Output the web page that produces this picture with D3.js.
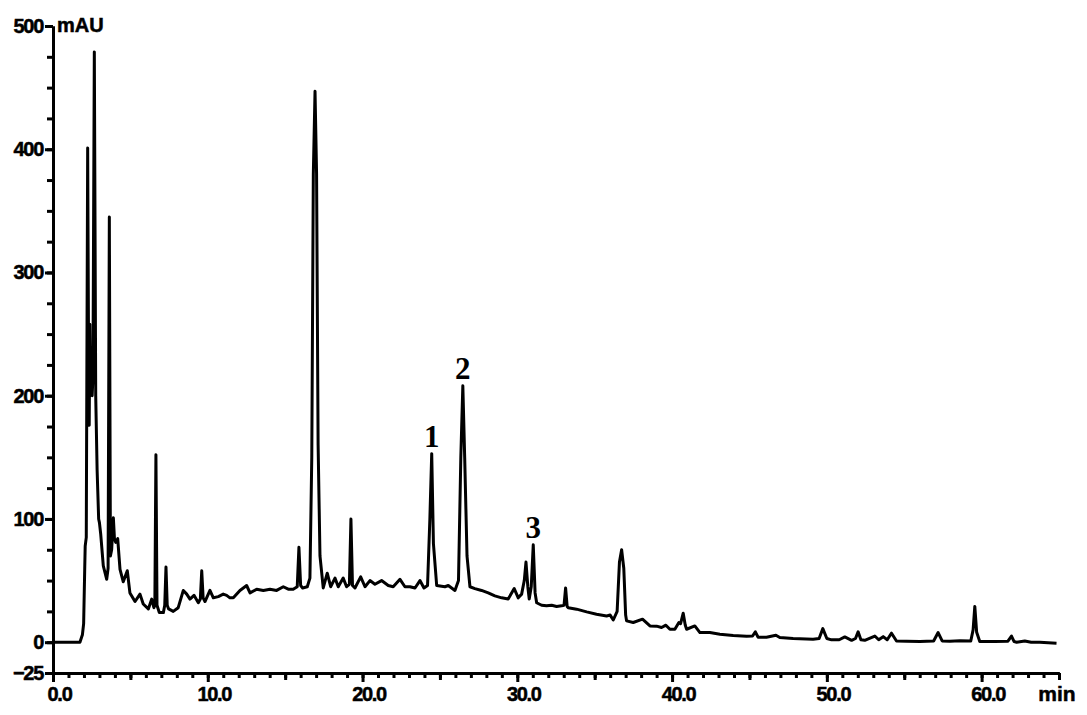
<!DOCTYPE html>
<html>
<head>
<meta charset="utf-8">
<script src="https://cdnjs.cloudflare.com/ajax/libs/d3/7.8.5/d3.min.js"></script>
<style>
body { margin: 0; background: #fff; }
#chart { width: 1087px; height: 715px; }
.axis path, .axis line { stroke: #000; stroke-width: 3px; }
.axis text, .unit { font-family: "Liberation Sans", Arial, sans-serif; font-weight: bold; font-size: 20px; letter-spacing: -1.3px; fill: #000; stroke: #000; stroke-width: 0.5px; }
.peak-label { font-family: "Liberation Serif", "Times New Roman", serif; font-weight: bold; font-size: 31px; fill: #000; }
</style>
</head>
<body>
<div id="chart"></div>
<script>
// retention time (min) and signal (mAU)
var times = [0, 1.74, 1.9, 1.98, 2.05, 2.08, 2.15, 2.24, 2.31, 2.34, 2.38, 2.42, 2.47, 2.53, 2.58, 2.67, 2.76, 2.85, 2.95, 3.0,
    3.08, 3.25, 3.47, 3.56, 3.64, 3.71, 3.79, 3.9, 3.97, 4.05, 4.18, 4.33, 4.54, 4.8, 4.97, 5.3, 5.62, 5.83, 6.16, 6.38,
    6.52, 6.58, 6.65, 6.72, 6.87, 7.13, 7.22, 7.3, 7.38, 7.47, 7.77, 8.09, 8.42, 8.64, 8.85, 9.11, 9.39, 9.52, 9.61, 9.7,
    9.82, 10.14, 10.36, 10.68, 11.0, 11.22, 11.43, 11.65, 12.08, 12.51, 12.73, 13.16, 13.59, 14.02, 14.45, 14.88, 15.2, 15.52, 15.78, 15.89,
    16.0, 16.13, 16.43, 16.6, 16.72, 16.82, 16.93, 17.03, 17.13, 17.25, 17.46, 17.72, 17.94, 18.22, 18.43, 18.75, 18.97, 19.15, 19.25, 19.35,
    19.51, 19.88, 20.16, 20.48, 20.8, 21.23, 21.66, 21.98, 22.42, 22.74, 23.06, 23.39, 23.71, 23.97, 24.2, 24.35, 24.47, 24.58, 24.79, 25.32,
    25.54, 25.97, 26.2, 26.35, 26.48, 26.6, 26.75, 26.94, 27.26, 27.69, 28.12, 28.55, 28.99, 29.41, 29.8, 30.06, 30.28, 30.45, 30.56, 30.68,
    30.77, 30.9, 31.03, 31.15, 31.25, 31.57, 31.89, 32.22, 32.54, 32.86, 33.02, 33.12, 33.22, 33.29, 33.83, 34.48, 35.12, 35.77, 36.0, 36.2,
    36.45, 36.6, 36.74, 36.88, 37.0, 37.06, 37.49, 38.09, 38.57, 39.0, 39.32, 39.6, 39.86, 40.18, 40.44, 40.55, 40.72, 40.85, 40.94, 41.47,
    41.8, 42.44, 43.09, 43.95, 44.81, 45.2, 45.38, 45.56, 46.1, 46.71, 46.96, 47.82, 49.11, 49.5, 49.74, 50.0, 50.3, 50.8, 51.16, 51.6,
    51.85, 52.02, 52.2, 52.45, 53.1, 53.35, 53.64, 53.9, 54.18, 54.5, 55.15, 56.01, 56.9, 57.19, 57.45, 57.95, 58.6, 59.3, 59.45, 59.56,
    59.68, 59.88, 60.85, 61.7, 61.93, 62.1, 62.26, 62.79, 63.2, 63.76, 64.84];
var absorbance = [0, 0, 6, 15, 60, 78, 85, 401, 200, 176, 258, 205, 235, 200, 215, 479, 200, 140, 100, 97,
    88, 62, 51, 60, 345, 70, 75, 101, 84, 81, 84, 59, 49, 58, 40, 33, 39, 31, 27, 35,
    28, 30, 152, 30, 24, 24, 30, 61, 30, 27, 25, 28, 42, 39, 35, 38, 32, 35, 58, 36,
    33, 42, 36, 37, 39, 38, 36, 36, 42, 46, 40, 43, 42, 43, 42, 45, 43, 43, 45, 77,
    46, 44, 45, 52, 150, 380, 447, 380, 160, 70, 44, 56, 45, 52, 45, 52, 45, 47, 100, 46,
    44, 53, 45, 50, 47, 50, 46, 45, 51, 45, 45, 44, 50, 44, 46, 100, 153, 80, 46, 45,
    46, 42, 50, 150, 208, 150, 70, 45, 43.5, 42, 40, 37.6, 36, 35, 43.5, 36, 39, 50, 65, 45,
    35, 45, 79, 40, 32, 30, 29.5, 30, 29, 29.5, 30, 44, 29, 28, 26.8, 24.6, 22.7, 21.3, 22, 18,
    25, 65, 75, 60, 22, 17.3, 16, 18.7, 13.2, 13, 11.9, 13.8, 10.5, 10.5, 16, 15, 23.5, 14, 10.5, 13.2,
    7.8, 7.8, 6.5, 5.5, 4.8, 5, 8.4, 4, 4, 5.7, 3.8, 3, 2.4, 3, 11, 3, 1.9, 2, 4.3, 1.5,
    3, 8.4, 2, 1.5, 5, 2, 4.5, 2, 7.3, 1, 0.8, 0.5, 1, 7.8, 1, 0.8, 1.2, 1, 10, 29,
    8, 0.5, 0.5, 0.8, 5, 0.5, 0, 1, 0, 0, -0.8];

var yTickLabels = [-25, 0, 100, 200, 300, 400, 500];
var xTickLabels = [0, 10, 20, 30, 40, 50, 60];
var peakNames = ["1", "2", "3"];
var peakTimes = [24.47, 26.48, 31.03];
var peakTops = [153, 208, 79];

Chromatogram = function(_parentElement){
    this.parentElement = _parentElement;
    this.data = times.map(function(t, i){ return { t: t, v: absorbance[i] }; });
    this.initVis();
};

Chromatogram.prototype.initVis = function(){
    var vis = this;

    vis.margin = { top: 26, right: 28, bottom: 42, left: 53 };
    vis.width = 1087 - vis.margin.left - vis.margin.right;
    vis.height = 715 - vis.margin.top - vis.margin.bottom;

    vis.svg = d3.select("#" + vis.parentElement).append("svg")
        .attr("width", 1087)
        .attr("height", 715)
        .append("g")
        .attr("transform", "translate(" + vis.margin.left + "," + vis.margin.top + ")");

    vis.x = d3.scaleLinear().domain([0, 65]).range([0, vis.width]);
    vis.y = d3.scaleLinear().domain([-25, 500]).range([vis.height, 0]);

    // x axis: minor every 1 min, medium every 5, labelled every 10
    vis.svg.append("g")
        .attr("class", "axis")
        .attr("transform", "translate(0," + vis.height + ")")
        .call(d3.axisBottom(vis.x).tickValues(d3.range(0, 66, 1)).tickSize(5).tickSizeOuter(0).tickFormat(""));
    vis.svg.append("g")
        .attr("class", "axis")
        .attr("transform", "translate(0," + vis.height + ")")
        .call(d3.axisBottom(vis.x).tickValues(d3.range(5, 66, 10)).tickSize(7).tickSizeOuter(0).tickFormat(""));
    vis.svg.append("g")
        .attr("class", "axis")
        .attr("transform", "translate(0," + vis.height + ")")
        .call(d3.axisBottom(vis.x).tickValues(xTickLabels).tickSize(9).tickSizeOuter(0).tickPadding(5)
            .tickFormat(d3.format(".1f")))
        .selectAll("text").attr("dx", 6);

    // y axis: minor every 25
    vis.svg.append("g")
        .attr("class", "axis")
        .call(d3.axisLeft(vis.y).tickValues(d3.range(-25, 501, 25)).tickSize(6).tickSizeOuter(0).tickFormat(""));
    vis.svg.append("g")
        .attr("class", "axis")
        .call(d3.axisLeft(vis.y).tickValues(yTickLabels).tickSize(8).tickSizeOuter(0).tickPadding(2)
            .tickFormat(d3.format("d")));

    vis.svg.append("text")
        .attr("class", "unit")
        .attr("x", 4)
        .attr("y", 6)
        .style("letter-spacing", "0px")
        .text("mAU");

    vis.svg.append("text")
        .attr("class", "unit")
        .attr("x", vis.width - 2)
        .attr("y", vis.height + 28)
        .attr("text-anchor", "middle")
        .style("font-size", "21px")
        .style("letter-spacing", "0px")
        .text("min");

    vis.line = d3.line()
        .x(function(d){ return vis.x(d.t); })
        .y(function(d){ return vis.y(d.v); });

    vis.updateVis();
};

Chromatogram.prototype.updateVis = function(){
    var vis = this;

    vis.svg.append("path")
        .datum(vis.data)
        .attr("fill", "none")
        .attr("stroke", "#000")
        .attr("stroke-width", 3)
        .attr("stroke-linejoin", "round")
        .attr("d", vis.line);

    vis.svg.selectAll(".peak-label")
        .data(peakNames)
        .enter().append("text")
        .attr("class", "peak-label")
        .attr("text-anchor", "middle")
        .attr("x", function(d, i){ return vis.x(peakTimes[i]); })
        .attr("y", function(d, i){ return vis.y(peakTops[i]) - 7; })
        .text(function(d){ return d; });
};

new Chromatogram("chart");
</script>
</body>
</html>
